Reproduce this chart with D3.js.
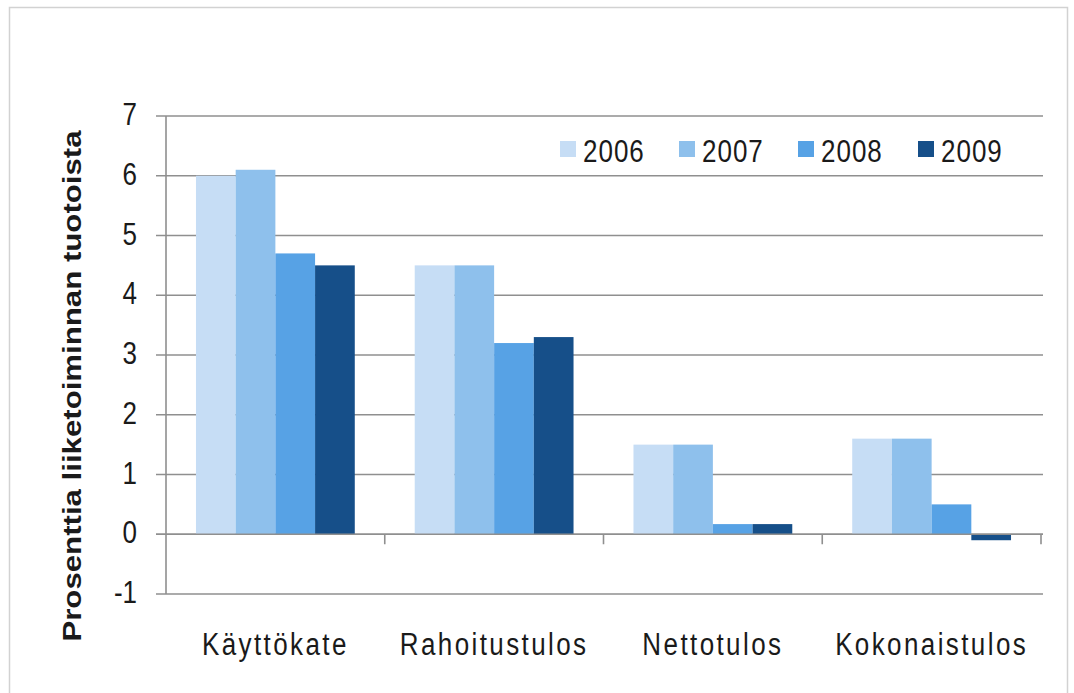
<html>
	<head>
		<meta content="text/html;charset=utf-8" http-equiv="Content-Type">
		<script src="https://d3js.org/d3.v7.min.js"></script>
		<style>
		body { margin: 0; background: #fff; }
		text { font-family: "Liberation Sans", Arial, sans-serif; fill: #1a1a1a; }
		</style>
	</head>
	<body>
		<svg id="chart"></svg>
		<script>

	var categories = ["Käyttökate", "Rahoitustulos", "Nettotulos", "Kokonaistulos"];
	var years = ["2006", "2007", "2008", "2009"];
	var v2006 = [6.0, 4.5, 1.5, 1.6];
	var v2007 = [6.1, 4.5, 1.5, 1.6];
	var v2008 = [4.7, 3.2, 0.17, 0.5];
	var v2009 = [4.5, 3.3, 0.17, -0.1];
	var yTicks = [-1, 0, 1, 2, 3, 4, 5, 6, 7];
	var colors = ["#c6ddf5", "#8ec0ec", "#57a2e5", "#164f89"];
	var yTitle = "Prosenttia liiketoiminnan tuotoista";

	page();

	function page(){
		var svg = d3.select("#chart");
		svg.attr("width", 1074).attr("height", 693);
		var series = [v2006, v2007, v2008, v2009];
		var sy = 1.2;

		// outer frame
		svg.append("rect")
			.attr("x", 9.5).attr("y", 7.5)
			.attr("width", 1058).attr("height", 690)
			.attr("fill", "none")
			.attr("stroke", "#d2d2d2")
			.attr("stroke-width", 1.5);

		var y = d3.scaleLinear().domain([-1, 7]).range([594, 116]);
		var x0 = d3.scaleBand().domain(categories).range([166, 1041]).padding(0);
		var x1 = d3.scaleBand().domain(years).range([0, x0.bandwidth()]).paddingInner(0).paddingOuter(0.755);

		// gridlines + left ticks
		svg.selectAll(".grid").data(yTicks).enter().append("line")
			.attr("class", "grid")
			.attr("x1", 156).attr("x2", 1043)
			.attr("y1", function(d){ return y(d); })
			.attr("y2", function(d){ return y(d); })
			.attr("stroke", "#8f8f8f")
			.attr("stroke-width", 1.6);

		// y tick labels
		svg.selectAll(".ylab").data(yTicks).enter().append("text")
			.attr("class", "ylab")
			.attr("text-anchor", "end")
			.attr("font-size", 26)
			.attr("transform", function(d){ return "translate(137," + (y(d) + 9) + ") scale(1," + sy + ")"; })
			.text(function(d){ return d; });

		// bars
		years.forEach(function(yr, i){
			svg.selectAll(".bar" + i).data(categories).enter().append("rect")
				.attr("class", "bar" + i)
				.attr("x", function(c){ return x0(c) + x1(yr); })
				.attr("width", x1.bandwidth())
				.attr("y", function(c, j){ return y(Math.max(0, series[i][j])); })
				.attr("height", function(c, j){ return Math.abs(y(series[i][j]) - y(0)); })
				.attr("fill", colors[i]);
		});

		// y axis line
		svg.append("line")
			.attr("x1", 166).attr("x2", 166)
			.attr("y1", y(7)).attr("y2", y(-1))
			.attr("stroke", "#8f8f8f").attr("stroke-width", 1.6);

		// zero line and category ticks
		svg.append("line")
			.attr("x1", 156).attr("x2", 1043)
			.attr("y1", y(0)).attr("y2", y(0))
			.attr("stroke", "#8f8f8f").attr("stroke-width", 1.6);
		var catEdges = categories.map(function(c){ return x0(c); }).concat([x0.range()[1]]);
		svg.selectAll(".ctick").data(catEdges.slice(1)).enter().append("line")
			.attr("class", "ctick")
			.attr("x1", function(d){ return d; }).attr("x2", function(d){ return d; })
			.attr("y1", y(0)).attr("y2", y(0) + 10)
			.attr("stroke", "#8f8f8f").attr("stroke-width", 1.6);

		// category labels
		svg.selectAll(".clab").data(categories).enter().append("text")
			.attr("class", "clab")
			.attr("text-anchor", "middle")
			.attr("font-size", 26)
			.attr("letter-spacing", 2.4)
			.attr("transform", function(c){ return "translate(" + (x0(c) + x0.bandwidth() / 2) + ",655) scale(1," + sy + ")"; })
			.text(function(c){ return c; });

		// legend
		var lx = [560, 679, 798, 918];
		var leg = svg.selectAll(".leg").data(years).enter().append("g")
			.attr("class", "leg")
			.attr("transform", function(d, i){ return "translate(" + lx[i] + ",141)"; });
		leg.append("rect")
			.attr("width", 16).attr("height", 16)
			.attr("fill", function(d, i){ return colors[i]; });
		leg.append("text")
			.attr("font-size", 26)
			.attr("letter-spacing", 1)
			.attr("transform", "translate(23,21) scale(1," + sy + ")")
			.text(function(d){ return d; });

		// y axis title
		svg.append("text")
			.attr("font-size", 26)
			.attr("font-weight", "bold")
			.attr("text-anchor", "middle")
			.attr("transform", "translate(81,386) rotate(-90) scale(" + sy + ",1)")
			.text(yTitle);
	}

		</script>
	</body>
</html>
